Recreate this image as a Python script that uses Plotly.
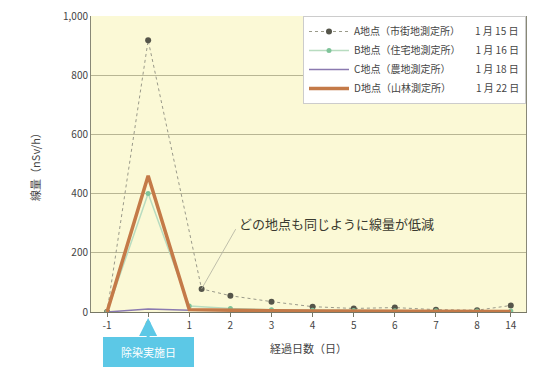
import plotly.graph_objects as go

# Elapsed days since the work day; the last point sits after an axis break
day_labels = ["-1", "0", "1", "2", "3", "4", "5", "6", "7", "8", "14"]
day_pos = [-1, 0, 1, 2, 3, 4, 5, 6, 7, 8, 8.82]

# Dose rate at each monitoring point (nSv/h)
site_a = [0, 460, 8, 5, 4, 3, 3, 2, 2, 2, 2]
site_b_pos = [-1, 0, 1.3, 2, 3, 4, 5, 6, 7, 8, 8.82]
site_b = [0, 918, 78, 55, 35, 18, 12, 15, 8, 6, 22]
site_c = [0, 400, 20, 12, 8, 6, 5, 4, 4, 3, 3]
site_d = [0, 10, 6, 5, 4, 4, 3, 3, 3, 3, 3]

legend_names = [
    "A地点（市街地測定所）　　1 月 15 日",
    "B地点（住宅地測定所）　　1 月 16 日",
    "C地点（農地測定所）　　　1 月 18 日",
    "D地点（山林測定所）　　　1 月 22 日",
]

fig = go.Figure()
fig.add_trace(go.Scatter(x=site_b_pos, y=site_b, name=legend_names[0], mode="lines+markers",
                         line=dict(color="#9a9a8a", width=1, dash="dot"),
                         marker=dict(color="#55554a", size=6)))
fig.add_trace(go.Scatter(x=day_pos, y=site_c, name=legend_names[1], mode="lines+markers",
                         line=dict(color="#b8dcc0", width=1.5),
                         marker=dict(color="#7fc49a", size=5)))
fig.add_trace(go.Scatter(x=day_pos, y=site_d, name=legend_names[2], mode="lines",
                         line=dict(color="#8a7ab0", width=1.5)))
fig.add_trace(go.Scatter(x=day_pos, y=site_a, name=legend_names[3], mode="lines",
                         line=dict(color="#c47a48", width=3.5)))

# Leader line from the note down to the first post-work reading
fig.add_annotation(x=1.3, y=78, ax=2.15, ay=285, axref="x", ayref="y",
                   text="", showarrow=True, arrowhead=0, arrowwidth=0.8,
                   arrowcolor="#b0b0a0")
fig.add_annotation(x=2.15, y=300, xanchor="left", text="どの地点も同じように線量が低減",
                   showarrow=False, font=dict(size=13, color="#3a3a30"))

# Callout marking day 0
fig.add_annotation(x=0, y=-0.02, xref="x", yref="paper", text="　除染実施日　",
                   showarrow=True, arrowhead=2, arrowsize=1.2, arrowwidth=3,
                   arrowcolor="#5cc8e6", ax=0, ay=34,
                   bgcolor="#5cc8e6", bordercolor="#5cc8e6", borderpad=6,
                   font=dict(size=11, color="white"))

fig.update_layout(
    width=534, height=378,
    margin=dict(l=91, r=7, t=13, b=66),
    paper_bgcolor="white",
    plot_bgcolor="#fbf9d6",
    font=dict(family="Noto Sans CJK JP", size=10, color="#444"),
    legend=dict(x=1, y=1, xanchor="right", yanchor="top", bgcolor="white",
                bordercolor="#cccccc", borderwidth=1, font=dict(size=10),
                tracegroupgap=0, itemwidth=40),
    xaxis=dict(range=[-1.39, 9.19], tickvals=day_pos, ticktext=day_labels,
               showgrid=False, zeroline=False, showline=True, linecolor="#777766",
               ticks="outside", ticklen=4, tickcolor="#777766",
               title=dict(text="経過日数（日）", standoff=14, font=dict(size=11))),
    yaxis=dict(range=[0, 1000], tickvals=[0, 200, 400, 600, 800, 1000],
               tickformat=",", gridcolor="#b8b694", gridwidth=1, zeroline=False,
               showline=True, linecolor="#888877", mirror=True,
               title=dict(text="線量（nSv/h）", standoff=20, font=dict(size=11))),
)

fig.write_html("out.html")
